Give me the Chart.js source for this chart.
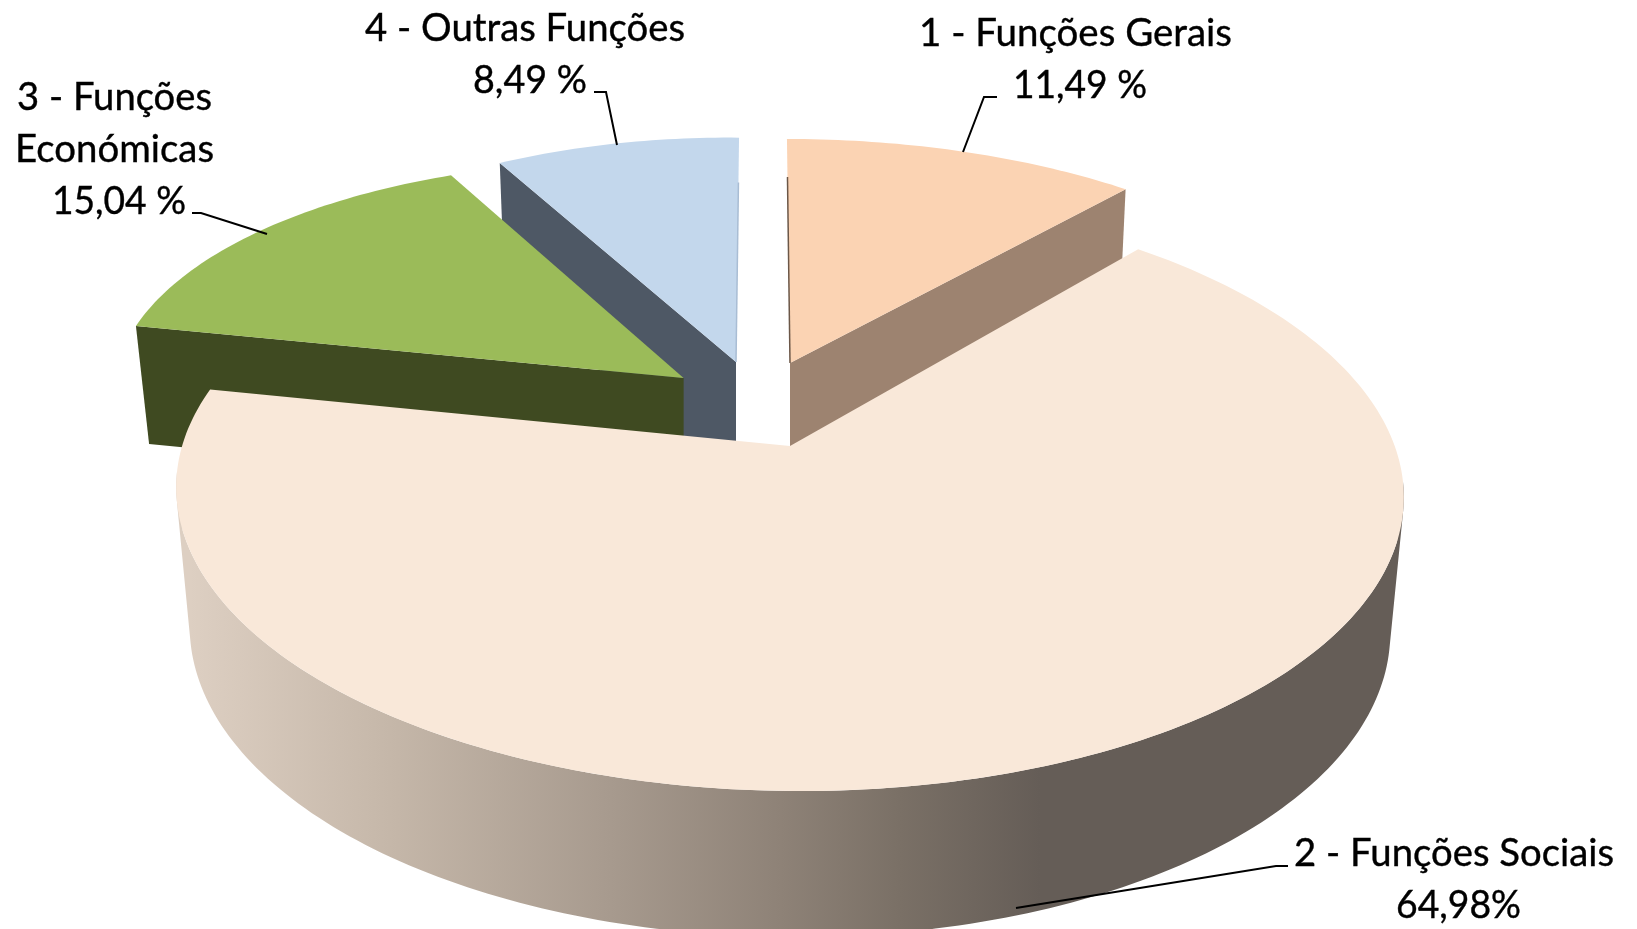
<!DOCTYPE html>
<html lang="pt">
<head>
<meta charset="utf-8">
<title>Funções</title>
<style>
  html, body { margin: 0; padding: 0; background: #fff; }
  canvas { display: block; }
</style>
<script src="https://cdn.jsdelivr.net/npm/chart.js@4/dist/chart.umd.min.js"></script>
</head>
<body>
<canvas id="pie" width="1637" height="929"></canvas>
<script>
// ---------- Data ----------
const categories = ['1 - Funções Gerais', '2 - Funções Sociais', '3 - Funções Económicas', '4 - Outras Funções'];
const shares = [11.49, 64.98, 15.04, 8.49];
const shareLabels = ['11,49 %', '64,98%', '15,04 %', '8,49 %'];
const topColors = ['#FBD3B3', '#F9E8D9', '#9BBB59', '#C3D7EC'];
const wallColors = ['#9D8370', null, '#3F4A21', '#4E5865'];

// ---------- Fake 3D view, one per slice ----------
const views = [
  { p: 0.15, cx: 790, cy: 363, R: 569, s: -3.5, B: 257.6, k: 0, wall: 'end', depth: 85, shrink: 0.988, nudge: [0, 0],
    edge: { side: 'start', upTo: 0.83, color: '#6B5748' } },
  { p: 0.155, cx: 790, cy: 446, R: 606.4, s: 0, B: 291.5, k: 5, nudge: [-1.4, 5.2] },
  { p: 0.15, cx: 683.6, cy: 378, R: 560, s: 25.7, B: 248, k: 30, wall: 'start', depth: 118, shrink: 0.976, nudge: [0, 0] },
  { p: 0.15, cx: 736, cy: 362, R: 530.5, s: 3.5, B: 258, k: 5, wall: 'start', depth: 125, shrink: 0.98, nudge: [0, 0],
    edge: { side: 'end', upTo: 0.8, color: '#A9BDD4' } }
];
const rimView = { p: 0.155, cx: 790, cy: 582, R: 593, s: 0, B: 300, k: 3 };
const rimRange = [96, 264]; // only this part of the rim faces the viewer
const drawOrder = [0, 3, 2, 1];

// label lines: text, left x, baseline y, width
const labelLines = [
  [categories[0], 919, 46, 313],
  [shareLabels[0], 1013, 98, 134],
  ['2 - Funções Sociais', 1294, 866, 320],
  [shareLabels[1], 1396, 918, 125],
  ['3 - Funções', 17, 110, 195],
  ['Económicas', 15, 162, 199],
  [shareLabels[2], 52, 214, 134],
  [categories[3], 365, 41, 320],
  [shareLabels[3], 473, 93, 114]
];
const leaders = [
  [[963, 152], [984, 97], [997, 97]],
  [[1016, 908], [1276, 866], [1288, 866]],
  [[267, 234], [201, 213], [192, 213]],
  [[617, 145], [606, 92], [594, 92]]
];

// ---------- Helpers ----------
function project(v, deg) {
  const t = deg * Math.PI / 180;
  const X = Math.sin(t), Y = Math.cos(t);
  const d = 1 + v.p * Y;
  return [v.cx + (v.R * X + v.s * Y) / d, v.cy + (-v.B * Y + v.k * X) / d];
}

// degrees clockwise from 12 o'clock, from the angles Chart.js worked out
function arcDegrees(arc, nudge) {
  const { startAngle, endAngle } = arc.getProps(['startAngle', 'endAngle'], true);
  return [
    (startAngle + Math.PI / 2) * 180 / Math.PI + nudge[0],
    (endAngle + Math.PI / 2) * 180 / Math.PI + nudge[1]
  ];
}

function drop(v, p) {
  return [v.cx + (p[0] - v.cx) * v.shrink, p[1] + v.depth];
}

function addPolygon(ctx, pts) {
  pts.forEach((p, i) => i ? ctx.lineTo(p[0], p[1]) : ctx.moveTo(p[0], p[1]));
  ctx.closePath();
}

function arcPoints(v, from, to) {
  const pts = [];
  const n = Math.ceil(Math.abs(to - from));
  for (let i = 0; i <= n; i++) pts.push(project(v, from + (to - from) * i / n));
  return pts;
}

function signedArea(pts) {
  let sum = 0;
  pts.forEach((p, i) => {
    const q = pts[(i + 1) % pts.length];
    sum += p[0] * q[1] - q[0] * p[1];
  });
  return sum;
}

function rimGradient(ctx) {
  const g = ctx.createLinearGradient(190, 0, 1040, 0);
  g.addColorStop(0, '#DDCFC2');
  g.addColorStop(0.235, '#C5B7A9');
  g.addColorStop(0.495, '#A79A8E');
  g.addColorStop(0.695, '#8E8277');
  g.addColorStop(0.835, '#7A7066');
  g.addColorStop(1, '#655D57');
  return g;
}

// sweep the top edge down to the bottom edge so the sides come out straight
function fillRim(ctx, v, a, b) {
  const from = Math.max(a, rimRange[0]);
  const to = Math.min(b, rimRange[1]);
  const upper = arcPoints(v, from, to);
  const lower = arcPoints(rimView, from, to);
  ctx.beginPath();
  for (let i = 0; i < upper.length - 1; i++) {
    const quad = [upper[i], upper[i + 1], lower[i + 1], lower[i]];
    // same winding for every quad, or overlaps cancel out and leave holes
    addPolygon(ctx, signedArea(quad) < 0 ? quad.reverse() : quad);
  }
  ctx.fillStyle = rimGradient(ctx);
  ctx.fill();
}

// ---------- Plugin: draws the arcs as slanted slices, then labels ----------
const pie3d = {
  id: 'pie3d',
  beforeDatasetsDraw(chart) {
    const ctx = chart.ctx;
    const arcs = chart.getDatasetMeta(0).data;
    ctx.save();
    drawOrder.forEach(i => {
      const v = views[i];
      const [a, b] = arcDegrees(arcs[i], v.nudge);
      if (v.wall) {
        const corner = project(v, v.wall === 'end' ? b : a);
        const apex = [v.cx, v.cy];
        ctx.beginPath();
        addPolygon(ctx, [apex, corner, drop(v, corner), drop(v, apex)]);
        ctx.fillStyle = wallColors[i];
        ctx.fill();
      } else {
        fillRim(ctx, v, a, b);
      }
      ctx.beginPath();
      addPolygon(ctx, [[v.cx, v.cy]].concat(arcPoints(v, a, b)));
      ctx.fillStyle = topColors[i];
      ctx.fill();
      if (v.edge) {
        const end = project(v, v.edge.side === 'start' ? a : b);
        ctx.beginPath();
        ctx.moveTo(v.cx, v.cy);
        ctx.lineTo(v.cx + (end[0] - v.cx) * v.edge.upTo, v.cy + (end[1] - v.cy) * v.edge.upTo);
        ctx.strokeStyle = v.edge.color;
        ctx.lineWidth = 1.5;
        ctx.stroke();
      }
    });
    ctx.restore();
    return false;
  },
  afterDraw(chart) {
    const ctx = chart.ctx;
    ctx.save();
    ctx.strokeStyle = '#000';
    ctx.lineWidth = 2;
    leaders.forEach(line => {
      ctx.beginPath();
      line.forEach((p, i) => i ? ctx.lineTo(p[0], p[1]) : ctx.moveTo(p[0], p[1]));
      ctx.stroke();
    });
    ctx.fillStyle = '#000';
    ctx.lineWidth = 0.4;
    ctx.font = '39.5px Lato';
    ctx.textAlign = 'left';
    ctx.textBaseline = 'alphabetic';
    labelLines.forEach(([text, x, y, w]) => {
      ctx.fillText(text, x, y, w);
      ctx.strokeText(text, x, y, w);
    });
    ctx.restore();
  }
};

// ---------- Chart ----------
new Chart(document.getElementById('pie').getContext('2d'), {
  type: 'pie',
  data: {
    labels: categories,
    datasets: [{ data: shares, backgroundColor: topColors, borderWidth: 0 }]
  },
  options: {
    responsive: false,
    animation: false,
    plugins: { legend: { display: false }, tooltip: { enabled: false } }
  },
  plugins: [pie3d]
});
</script>
</body>
</html>
